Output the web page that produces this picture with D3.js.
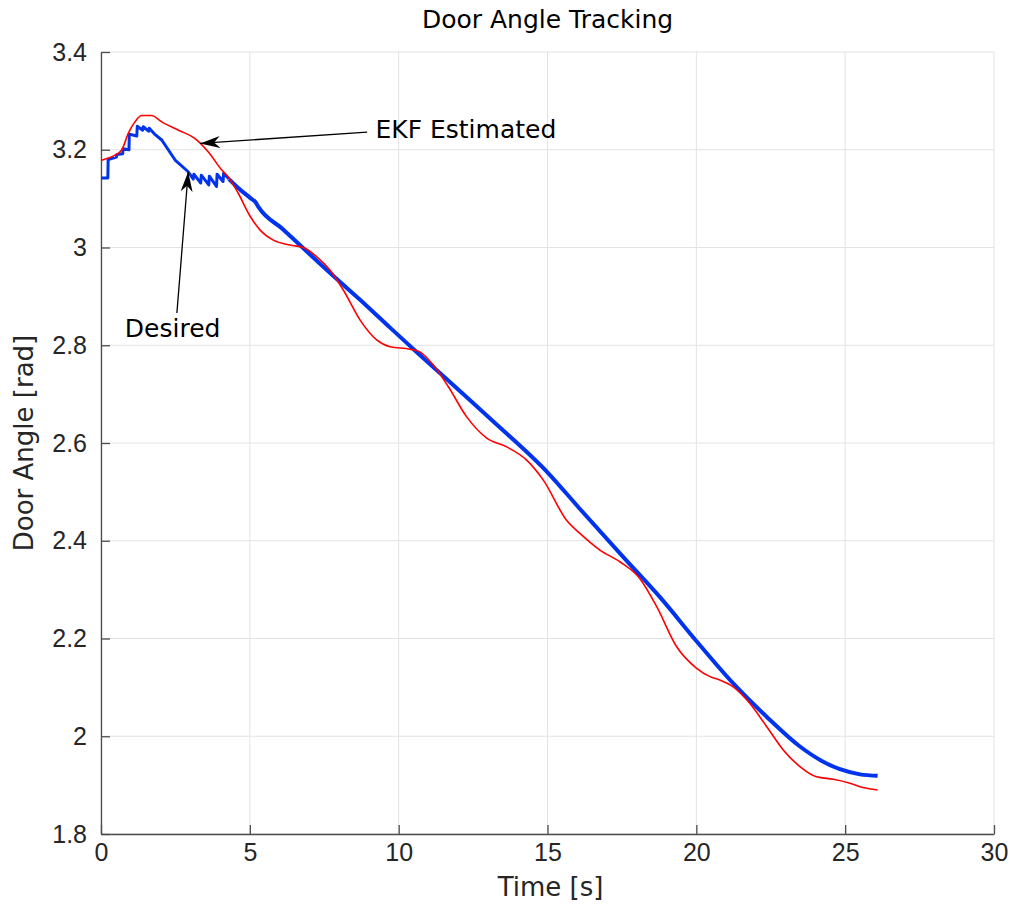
<!DOCTYPE html>
<html>
<head>
<meta charset="utf-8">
<script src="https://cdn.jsdelivr.net/npm/d3@7"></script>
<style>
  body { margin: 0; background: #fff; }
  svg { display: block; }
</style>
</head>
<body>
<div id="chart"></div>
<script>
// ======== Data ========
var desiredT = [0, 0.23, 0.24, 0.52, 0.53, 0.73, 0.74, 0.94, 0.95, 1.20, 1.22, 1.40, 1.42, 1.60, 1.62, 1.80,
    2.04, 2.49, 2.93, 3.10, 3.12, 3.35, 3.37, 3.62, 3.64, 3.88, 3.90, 4.10, 4.12, 4.30, 4.50,
    5.00, 5.20, 5.30, 6.12, 6.68, 7.80, 8.92, 9.71, 10.50, 13.07, 15.03, 16.09, 17.54, 18.80, 20.00,
    21.24, 22.36, 23.48, 24.20, 24.80, 25.50, 26.09];
var desiredV = [3.142, 3.142, 3.180, 3.185, 3.190, 3.192, 3.202, 3.200, 3.232, 3.228, 3.248, 3.240, 3.247, 3.238, 3.244, 3.232,
    3.220, 3.179, 3.155, 3.140, 3.150, 3.132, 3.148, 3.128, 3.146, 3.125, 3.150, 3.135, 3.152, 3.140, 3.128,
    3.102, 3.092, 3.082, 3.037, 3.005, 2.942, 2.881, 2.836, 2.792, 2.650, 2.538, 2.465, 2.367, 2.283, 2.195,
    2.108, 2.040, 1.979, 1.950, 1.933, 1.922, 1.919];

var ekfT = [0, 0.25, 0.47, 0.70, 0.92, 1.14, 1.37, 1.70, 2.04, 2.60, 3.16, 3.60, 4.05, 4.28, 4.61,
    5.00, 5.34, 5.79, 6.35, 6.80, 7.25, 7.69, 8.14, 8.70, 9.26, 9.71, 10.38, 10.70, 11.16, 11.67,
    12.28, 12.96, 13.63, 14.30, 14.86, 15.64, 16.09, 16.76, 17.43, 18.10, 18.67, 19.34, 20.01,
    20.46, 20.79, 21.24, 21.80, 22.36, 22.92, 23.48, 24.04, 24.60, 25.16, 25.60, 26.09];
var ekfV = [3.178, 3.183, 3.189, 3.200, 3.234, 3.257, 3.270, 3.270, 3.257, 3.240, 3.223, 3.196, 3.159, 3.144, 3.111,
    3.065, 3.036, 3.015, 3.005, 3.000, 2.981, 2.954, 2.913, 2.852, 2.811, 2.797, 2.792, 2.787, 2.760, 2.715,
    2.654, 2.610, 2.592, 2.565, 2.524, 2.442, 2.415, 2.381, 2.357, 2.323, 2.265, 2.183, 2.139,
    2.122, 2.115, 2.101, 2.067, 2.020, 1.972, 1.938, 1.917, 1.912, 1.904, 1.895, 1.890];

var xTicks = [0, 5, 10, 15, 20, 25, 30];
var yTicks = [1.8, 2, 2.2, 2.4, 2.6, 2.8, 3, 3.2, 3.4];

// annotation text / arrow tail / arrow tip, in data units
var notes = [
    {label: 'EKF Estimated', tx: 9.22, ty: 3.224, fx: 8.94, fy: 3.236, px: 3.33, py: 3.213},
    {label: 'Desired', tx: 0.80, ty: 2.817, fx: 2.55, fy: 2.866, px: 2.93, py: 3.155}
];

// ======== Layout ========
var W = 1010, H = 905;
var m = {left: 101, top: 52, right: 16, bottom: 71};
var iw = W - m.left - m.right, ih = H - m.top - m.bottom;

var svg = d3.select('#chart').append('svg')
    .attr('width', W)
    .attr('height', H);

var x = d3.scaleLinear().domain([0, 30]).range([0, iw]);
var y = d3.scaleLinear().domain([1.8, 3.4]).range([ih, 0]);

var g = svg.append('g').attr('transform', 'translate(' + m.left + ',' + m.top + ')');

// grid
g.append('g').selectAll('line').data(xTicks).enter().append('line')
    .attr('x1', x).attr('x2', x).attr('y1', 0).attr('y2', ih)
    .attr('stroke', '#e3e3e3').attr('stroke-width', 1);
g.append('g').selectAll('line').data(yTicks).enter().append('line')
    .attr('y1', y).attr('y2', y).attr('x1', 0).attr('x2', iw)
    .attr('stroke', '#e3e3e3').attr('stroke-width', 1);

// axes (ticks pointing inward)
var xAxis = g.append('g').attr('transform', 'translate(0,' + ih + ')')
    .call(d3.axisBottom(x).tickValues(xTicks).tickSizeInner(-9).tickSizeOuter(0).tickPadding(17)
        .tickFormat(d3.format('d')));
var yAxis = g.append('g')
    .call(d3.axisLeft(y).tickValues(yTicks).tickSizeInner(-9).tickSizeOuter(0).tickPadding(14)
        .tickFormat(function (d) { return d3.format('')(d); }));

[xAxis, yAxis].forEach(function (a) {
    a.select('.domain').attr('stroke', '#4d4d4d').attr('stroke-width', 1.3);
    a.selectAll('.tick line').attr('stroke', '#4d4d4d').attr('stroke-width', 1.3);
    a.selectAll('.tick text')
        .attr('fill', '#262626')
        .style('font-family', '"Liberation Sans", Arial, sans-serif')
        .style('font-size', '25px');
});
xAxis.selectAll('.tick text').attr('dy', '0.71em').attr('y', 9);

// ======== Lines ========
var desired = desiredT.map(function (t, i) { return [t, desiredV[i]]; });
var ekf = ekfT.map(function (t, i) { return [t, ekfV[i]]; });

// stepped start of the reference is drawn straight, the rest smooth
var split = desiredT.indexOf(4.30);
var desiredStart = desired.slice(0, split + 1);
var desiredRest = desired.slice(split);

var lineLin = d3.line()
    .x(function (d) { return x(d[0]); })
    .y(function (d) { return y(d[1]); });
var lineSmooth = d3.line()
    .x(function (d) { return x(d[0]); })
    .y(function (d) { return y(d[1]); })
    .curve(d3.curveMonotoneX);

g.append('path').datum(desiredStart)
    .attr('d', lineLin)
    .attr('fill', 'none')
    .attr('stroke', '#0033ee')
    .attr('stroke-width', 3)
    .attr('stroke-linejoin', 'round');
g.append('path').datum(desiredRest)
    .attr('d', lineSmooth)
    .attr('fill', 'none')
    .attr('stroke', '#0033ee')
    .attr('stroke-width', 4)
    .attr('stroke-linejoin', 'round');

g.append('path').datum(ekf)
    .attr('d', lineSmooth)
    .attr('fill', 'none')
    .attr('stroke', '#ff0000')
    .attr('stroke-width', 1.6);

// ======== Annotations ========
function arrowHead(x0, y0, x1, y1) {
    var a = Math.atan2(y1 - y0, x1 - x0);
    var len = 20, half = 6, back = 14;
    var ca = Math.cos(a), sa = Math.sin(a);
    var bx = x1 - len * ca, by = y1 - len * sa;
    var nx = x1 - back * ca, ny = y1 - back * sa;
    return 'M' + x1 + ',' + y1 +
        'L' + (bx - half * sa) + ',' + (by + half * ca) +
        'L' + nx + ',' + ny +
        'L' + (bx + half * sa) + ',' + (by - half * ca) + 'Z';
}

notes.forEach(function (n) {
    var x0 = x(n.fx), y0 = y(n.fy), x1 = x(n.px), y1 = y(n.py);
    g.append('line')
        .attr('x1', x0).attr('y1', y0).attr('x2', x1).attr('y2', y1)
        .attr('stroke', '#000').attr('stroke-width', 1.3);
    g.append('path')
        .attr('d', arrowHead(x0, y0, x1, y1))
        .attr('fill', '#000');
    g.append('text')
        .attr('x', x(n.tx)).attr('y', y(n.ty))
        .style('font-family', '"DejaVu Sans", sans-serif')
        .style('font-size', '25px')
        .attr('fill', '#000')
        .text(n.label);
});

// ======== Titles ========
svg.append('text')
    .attr('x', m.left + iw / 2).attr('y', 28)
    .attr('text-anchor', 'middle')
    .style('font-family', '"DejaVu Sans", sans-serif')
    .style('font-size', '25px')
    .text('Door Angle Tracking');

svg.append('text')
    .attr('x', m.left + iw / 2 + 3).attr('y', 896)
    .attr('text-anchor', 'middle')
    .style('font-family', '"DejaVu Sans", sans-serif')
    .style('font-size', '26px')
    .attr('fill', '#262626')
    .text('Time [s]');

svg.append('text')
    .attr('transform', 'translate(33,' + (m.top + ih / 2) + ') rotate(-90)')
    .attr('text-anchor', 'middle')
    .style('font-family', '"DejaVu Sans", sans-serif')
    .style('font-size', '26px')
    .attr('fill', '#262626')
    .text('Door Angle [rad]');
</script>
</body>
</html>
